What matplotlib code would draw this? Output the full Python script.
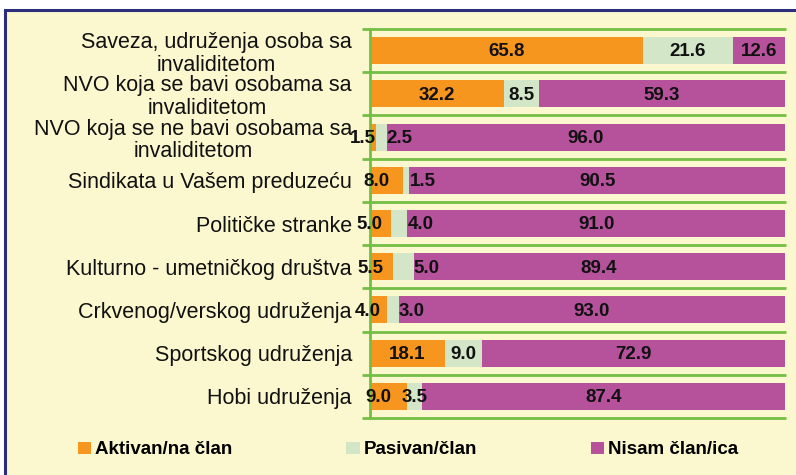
import numpy as np
import matplotlib.pyplot as plt
from matplotlib.patches import Rectangle

plt.rcParams['font.family'] = ['Liberation Sans', 'DejaVu Sans']

categories = [
    'Saveza, udruženja osoba sa\ninvaliditetom',
    'NVO koja se bavi osobama sa\ninvaliditetom',
    'NVO koja se ne bavi osobama sa\ninvaliditetom',
    'Sindikata u Vašem preduzeću',
    'Političke stranke',
    'Kulturno - umetničkog društva',
    'Crkvenog/verskog udruženja',
    'Sportskog udruženja',
    'Hobi udruženja',
]
aktivan = [65.8, 32.2, 1.5, 8.0, 5.0, 5.5, 4.0, 18.1, 9.0]
pasivan = [21.6, 8.5, 2.5, 1.5, 4.0, 5.0, 3.0, 9.0, 3.5]
nisam = [12.6, 59.3, 96.0, 90.5, 91.0, 89.4, 93.0, 72.9, 87.4]
series_names = ['Aktivan/na član', 'Pasivan/član', 'Nisam član/ica']

# styles
colors = ['#F7961F', '#D3E7C8', '#B6529C']
bg = '#FBF7CF'
grid_green = '#74BE45'
green_label_align = ['center', 'center', 'left', 'left', 'left', 'left', 'left', 'center', 'center']

fig = plt.figure(figsize=(7.96, 4.75), dpi=100, facecolor='white')
# yellow panel with navy border (cropped on right/bottom)
fig.patches.append(Rectangle((5 / 796, -0.5), 1.5, 0.5 + 1 - 10 / 475, transform=fig.transFigure,
                             facecolor=bg, edgecolor='#2B2F7A', linewidth=2.2, zorder=-10))

ax = fig.add_axes([370 / 796, 1 - 418 / 475, 415 / 796, 389 / 475])
ax.set_facecolor(bg)
ax.patch.set_alpha(0)

y = np.arange(len(categories))
h = 0.625
a = np.array(aktivan)
p = np.array(pasivan)
n = np.array(nisam)
ax.barh(y, a, height=h, color=colors[0], label=series_names[0], zorder=3)
ax.barh(y, p, left=a, height=h, color=colors[1], label=series_names[1], zorder=3)
ax.barh(y, n, left=a + p, height=h, color=colors[2], label=series_names[2], zorder=3)

ax.set_xlim(0, 100)
ax.set_ylim(len(categories) - 0.5, -0.5)

# category boundary lines (grid) extending slightly left like tick marks
ax.hlines(np.arange(len(categories) + 1) - 0.5, -2, 100.3, colors=grid_green, linewidth=2,
          clip_on=False, zorder=2)

for s in ['top', 'right', 'bottom']:
    ax.spines[s].set_visible(False)
ax.spines['left'].set_color(grid_green)
ax.spines['left'].set_linewidth(2)
ax.spines['left'].set_zorder(4)
ax.set_xticks([])
ax.set_yticks(y)
ax.set_yticklabels(categories, fontsize=15.5, color='#111111', multialignment='center',
                   linespacing=1.12)
ax.tick_params(axis='y', length=0, pad=13)

lab = dict(fontsize=13.5, fontweight='bold', va='center', color='#111111', zorder=5)
for i in range(len(categories)):
    if a[i] < 10:
        ax.text(a[i] / 2 + 0.6, y[i] + 0.03, f'{a[i]:.1f}', ha='right', **lab)
    else:
        ax.text(a[i] / 2, y[i] + 0.03, f'{a[i]:.1f}', ha='center', **lab)
    if green_label_align[i] == 'left':
        ax.text(a[i] + p[i], y[i] + 0.03, f'{p[i]:.1f}', ha='left', **lab)
    else:
        ax.text(a[i] + p[i] / 2, y[i] + 0.03, f'{p[i]:.1f}', ha='center', **lab)
    ax.text(a[i] + p[i] + n[i] / 2, y[i] + 0.03, f'{n[i]:.1f}', ha='center', **lab)

fig.legend(loc='center', bbox_to_anchor=(408 / 796, 1 - 450 / 475), ncol=3, frameon=False,
           prop={'weight': 'bold', 'size': 13.5}, handlelength=0.7, handleheight=0.65,
           handletextpad=0.2, columnspacing=6.1)

fig.savefig('out.png', dpi=100, facecolor=fig.get_facecolor())
